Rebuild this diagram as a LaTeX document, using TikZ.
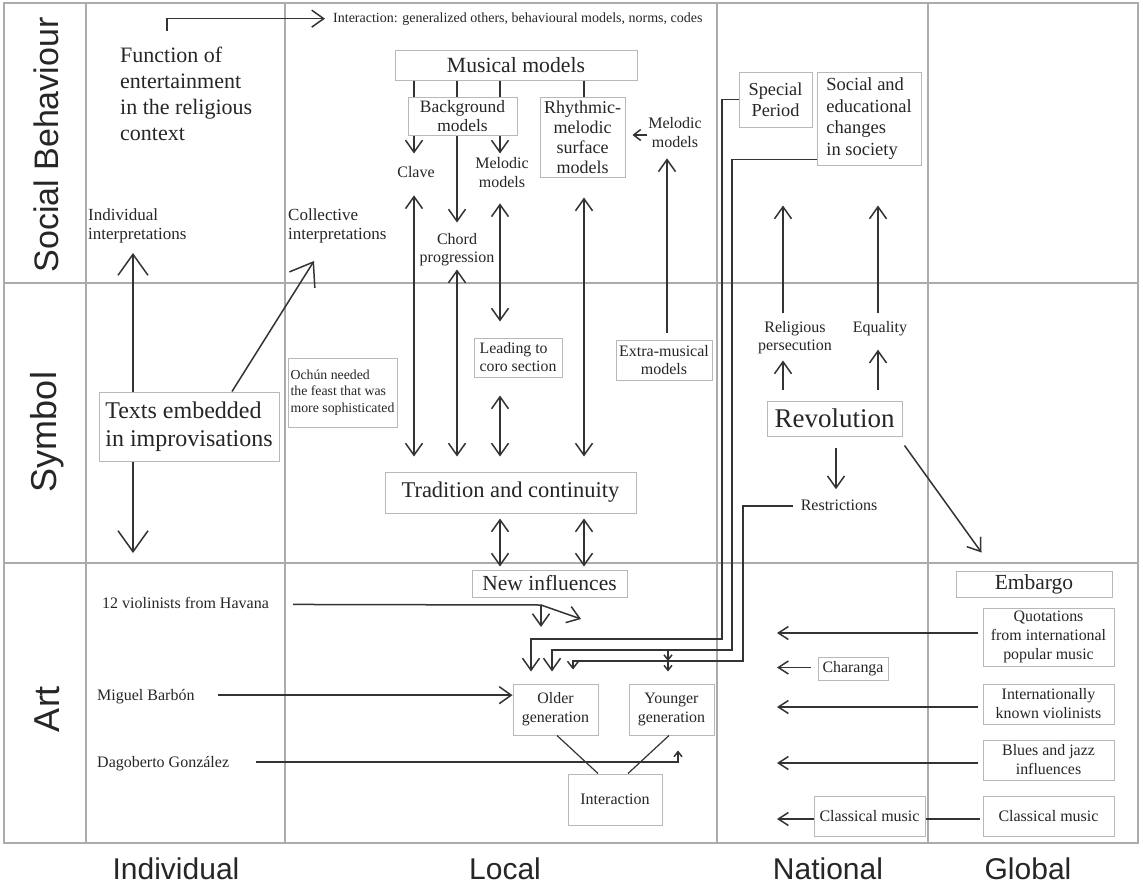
\documentclass[tikz,border=0pt]{standalone}
\usepackage{fontspec}
\setmainfont{Liberation Serif}
\newfontfamily\axisfont{Liberation Sans}
\usetikzlibrary{arrows.meta,calc}
\newcommand\fsz[2]{\fontsize{#1}{#2}\selectfont}
\tikzset{
  TB/.tip={Straight Barb[length=21pt,width=30pt]},
  TM/.tip={Straight Barb[length=12pt,width=17pt]},
  TG/.tip={Straight Barb[length=10pt,width=13pt]},
  TS/.tip={Straight Barb[length=7pt,width=11pt]},
  TX/.tip={Straight Barb[length=5pt,width=8pt]},
}
\begin{document}
\begin{tikzpicture}[x=1pt,y=-1pt,
  grid/.style={draw=black!33,line width=1.1pt},
  box/.style={draw=black!28,line width=1pt,inner sep=0pt,text=black!85,align=center},
  txt/.style={inner sep=0pt,text=black!85},
  con/.style={draw=black!80,line width=1.5pt},
  axislab/.style={inner sep=0pt,text=black!85},
]
\useasboundingbox (0,0) rectangle (1143,886);
\fill[white] (0,0) rectangle (1143,886);

% grid
\draw[grid] (4,3) rectangle (1138,843);
\draw[grid] (86,3) -- (86,843);
\draw[grid] (285,3) -- (285,843);
\draw[grid] (717,3) -- (717,843);
\draw[grid] (928,3) -- (928,843);
\draw[grid] (4,283) -- (1138,283);
\draw[grid] (4,563) -- (1138,563);

% axis labels
\node[axislab,rotate=90,font=\axisfont\fsz{34}{40}] (lsb) at (46,145) {Social Behaviour};
\node[axislab,rotate=90,font=\axisfont\fsz{36}{40}] (lsym) at (47,432) {Symbol};
\node[axislab,rotate=90,font=\axisfont\fsz{36}{40}] (lart) at (47,709) {Art};
\node[axislab,anchor=base,font=\axisfont\fsz{30}{34}] (lind) at (176,879) {Individual};
\node[axislab,anchor=base,font=\axisfont\fsz{30}{34}] (lloc) at (505,879) {Local};
\node[axislab,anchor=base,font=\axisfont\fsz{30}{34}] (lnat) at (828,879) {National};
\node[axislab,anchor=base,font=\axisfont\fsz{30}{34}] (lglob) at (1028,879) {Global};

% boxes
\node[box,minimum width=242pt,minimum height=30pt,font=\fsz{21.7}{24}] (musical) at (516,65) {Musical models};
\node[box,minimum width=109pt,minimum height=38pt,font=\fsz{17.4}{19}] (bg) at (462.5,116) {Background\\models};
\node[box,minimum width=85pt,minimum height=80pt,font=\fsz{18}{20}] (rhythm) at (582.5,137) {Rhythmic-\\melodic\\surface\\models};
\node[box,align=left,minimum width=180pt,minimum height=69pt,font=\fsz{24}{28}] (texts) at (189,426.5) {Texts embedded\\in improvisations};
\node[box,align=left,minimum width=109pt,minimum height=69pt,font=\fsz{13.8}{16.5}] (ochun) at (342.5,392.5) {Och\'un needed\\the feast that was\\more sophisticated};
\node[box,align=left,minimum width=88pt,minimum height=39pt,font=\fsz{15.8}{18}] (leading) at (518,357.5) {Leading to\\coro section};
\node[box,minimum width=96pt,minimum height=40pt,font=\fsz{16}{18}] (extra) at (664,360) {Extra-musical\\models};
\node[box,minimum width=251pt,minimum height=41pt,font=\fsz{22.5}{25}] (tradition) at (510.5,492.5) {Tradition and continuity};
\node[box,minimum width=155pt,minimum height=27pt,font=\fsz{21.5}{24}] (newinf) at (549.5,583.5) {New influences};
\node[box,minimum width=85pt,minimum height=51pt,font=\fsz{15.9}{19}] (older) at (555.5,709.5) {Older\\generation};
\node[box,minimum width=85pt,minimum height=51pt,font=\fsz{15.9}{19}] (younger) at (671.5,709.5) {Younger\\generation};
\node[box,minimum width=94pt,minimum height=51pt,font=\fsz{16}{19}] (interaction) at (615,799.5) {Interaction};
\node[box,minimum width=73pt,minimum height=55pt,font=\fsz{18.3}{21}] (special) at (775.5,99.5) {Special\\Period};
\node[box,align=left,minimum width=104pt,minimum height=93pt,font=\fsz{18.5}{21.7}] (social) at (869,118.5) {Social and\\educational\\changes\\in society};
\node[box,minimum width=135pt,minimum height=35pt,font=\fsz{27}{30}] (revolution) at (834.5,418.5) {Revolution};
\node[box,minimum width=156pt,minimum height=26pt,font=\fsz{21.5}{24}] (embargo) at (1034,584) {Embargo};
\node[box,minimum width=131pt,minimum height=58pt,font=\fsz{15.9}{19}] (quot) at (1048.5,637) {Quotations\\from international\\popular music};
\node[box,minimum width=70pt,minimum height=23pt,font=\fsz{15.9}{18}] (charanga) at (853,668.5) {Charanga};
\node[box,minimum width=131pt,minimum height=40pt,font=\fsz{15.9}{19}] (intl) at (1048.5,704) {Internationally\\known violinists};
\node[box,minimum width=131pt,minimum height=40pt,font=\fsz{15.9}{19}] (blues) at (1048.5,760) {Blues and jazz\\influences};
\node[box,minimum width=131pt,minimum height=40pt,font=\fsz{16}{19}] (classG) at (1048.5,816) {Classical music};
\node[box,minimum width=111pt,minimum height=40pt,font=\fsz{16}{19}] (classN) at (869.5,816) {Classical music};

% plain texts
\node[txt,anchor=west,align=left,font=\fsz{22}{26}] (func) at (120,94) {Function of\\entertainment\\in the religious\\context};
\node[txt,anchor=base west,font=\fsz{14}{16}] (inter) at (333,22) {Interaction: generalized others, behavioural models, norms, codes};
\node[txt,anchor=west,align=left,font=\fsz{17}{18.5}] (indiv) at (88,226) {Individual\\interpretations};
\node[txt,anchor=west,align=left,font=\fsz{17}{18.5}] (coll) at (288,226) {Collective\\interpretations};
\node[txt,anchor=base,font=\fsz{16}{18}] (clave) at (416,177) {Clave};
\node[txt,align=center,font=\fsz{16}{19}] (mel1) at (502,173) {Melodic\\models};
\node[txt,align=center,font=\fsz{16}{18}] (chord) at (457,250) {Chord\\progression};
\node[txt,align=center,font=\fsz{16}{19}] (mel2) at (675,133) {Melodic\\models};
\node[txt,align=center,font=\fsz{16}{18}] (relig) at (795,338) {Religious\\persecution};
\node[txt,anchor=base,font=\fsz{16}{18}] (equal) at (880,332) {Equality};
\node[txt,anchor=base,font=\fsz{16}{18}] (restr) at (839,510) {Restrictions};
\node[txt,anchor=base west,font=\fsz{16}{18}] (viol) at (102,608) {12 violinists from Havana};
\node[txt,anchor=base west,font=\fsz{16}{18}] (miguel) at (97,700) {Miguel Barb\'on};
\node[txt,anchor=base west,font=\fsz{16}{18}] (dago) at (97,767) {Dagoberto Gonz\'alez};

% column / end coordinates
\coordinate (iup) at (133,253);
\coordinate (idown) at (133,553);
\coordinate (cB) at (232,0);
\coordinate (cup) at (314,261);
\coordinate (c414) at (414,0);
\coordinate (c457) at (457,0);
\coordinate (c500) at (500,0);
\coordinate (c584) at (584,0);
\coordinate (c667) at (667,0);
\coordinate (c783) at (783,0);
\coordinate (c878) at (878,0);
\coordinate (c836) at (836,0);
\coordinate (c531) at (531,0);
\coordinate (c552) at (552,0);
\coordinate (c573) at (573,0);
\coordinate (c668) at (668,0);
\coordinate (c557) at (557,0);
\coordinate (c598) at (598,0);
\coordinate (c669) at (669,0);
\coordinate (c628) at (628,0);
\coordinate (c678) at (678,0);
\coordinate (c777) at (777,0);
\coordinate (k1) at (722,639);
\coordinate (k2) at (732,650);
\coordinate (k3) at (743,661);
\coordinate (vsplit) at (541,605);
\coordinate (vdiag) at (581,619);

% top interaction arrow
\draw[con,-TM] ($(func.north west)+(47,-16)$) |- ([xshift=-8pt]inter.west);

% individual / collective
\draw[con,-TB] (texts.north -| iup) -- (iup);
\draw[con,-TB] (texts.south -| idown) -- (idown);
\draw[con,-TB] (texts.north -| cB) -- (cup);

% musical models tree
\foreach \c in {c414,c457,c500} \draw[con] (musical.south -| \c) -- (bg.north -| \c);
\draw[con] (musical.south -| c584) -- (rhythm.north -| c584);
\draw[con,-TM] (bg.south -| c414) -- ++(0,18);
\draw[con,-TM] (bg.south -| c500) -- ++(0,18);
\draw[con,-TM] (bg.south -| c457) -- ++(0,87);

% links with tradition
\draw[con,TM-TM] ($(clave.south -| c414)+(0,18)$) -- ($(tradition.north -| c414)+(0,-15)$);
\draw[con,TM-TM] ($(chord.south -| c457)+(0,3)$) -- ($(tradition.north -| c457)+(0,-15)$);
\draw[con,TM-TM] ($(mel1.south -| c500)+(0,15)$) -- ($(leading.north -| c500)+(0,-16)$);
\draw[con,TM-TM] ($(leading.south -| c500)+(0,18)$) -- ($(tradition.north -| c500)+(0,-15)$);
\draw[con,TM-TM] ($(rhythm.south -| c584)+(0,20)$) -- ($(tradition.north -| c584)+(0,-15)$);
\draw[con,TM-] ($(mel2.south -| c667)+(0,10)$) -- ($(extra.north -| c667)+(0,-7)$);
\draw[con,-TS] ($(mel2.west)+(-1,2)$) -- ($(rhythm.east |- mel2.west)+(7,2)$);
\draw[con,TM-TM] ($(tradition.south -| c500)+(0,5)$) -- ($(newinf.north -| c500)+(0,-3)$);
\draw[con,TM-TM] ($(tradition.south -| c584)+(0,5)$) -- ($(newinf.north -| c584)+(0,-3)$);

% art individuals
\draw[con] ($(viol.east)+(24,2)$) -- (vsplit);
\draw[con,-TM] (vsplit) -- ++(0,22);
\draw[con,-TM] (vsplit) -- (vdiag);
\draw[con,-TM] ($(miguel.east)+(23,-1)$) -- ($(older.west |- miguel.east)+(0,-1)$);
\draw[con,-TX] ($(dago.east)+(27,-1)$) -| ($(younger.south -| c678)+(0,15)$);

% generations
\draw[con,line width=1.2pt] (older.south -| c557) -- (interaction.north -| c598);
\draw[con,line width=1.2pt] (younger.south -| c669) -- (interaction.north -| c628);

% national to local
\draw[con,-TM] (special.west) -| (k1) -| ($(older.north -| c531)+(0,-12)$);
\draw[con,-TM] ($(social.south west)+(0,-6)$) -| (k2) -| ($(older.north -| c552)+(0,-12)$);
\draw[con,-TS] ($(restr.west)+(-8,1)$) -| (k3) -| ($(older.north -| c573)+(0,-14)$);
\draw[con,-TX] (c668 |- k2) -- (c668 |- k3);
\draw[con,-TX] (c668 |- k3) -- ($(younger.north -| c668)+(0,-12)$);

% revolution
\draw[con,-TM] ($(revolution.north -| c783)+(0,-11)$) -- ($(relig.south -| c783)+(0,6)$);
\draw[con,-TM] ($(revolution.north -| c878)+(0,-11)$) -- ($(equal.south -| c878)+(0,14)$);
\draw[con,-TM] ($(relig.north -| c783)+(0,-9)$) -- ($(special.south -| c783)+(0,78)$);
\draw[con,-TM] ($(equal.north -| c878)+(0,-8)$) -- ($(social.south -| c878)+(0,40)$);
\draw[con,-TM] ($(revolution.south -| c836)+(0,11)$) -- ($(restr.north -| c836)+(0,-10)$);
\draw[con,-TM] ($(revolution.south east)+(2,9)$) -- ($(embargo.north west)+(26,-18)$);

% global to national
\draw[con,-TG] ($(quot.west)+(-5,-4)$) -- ($(c777 |- quot.west)+(0,-4)$);
\draw[con,-TG] ($(charanga.west)+(-7,-1)$) -- ($(c777 |- charanga.west)+(0,-1)$);
\draw[con,-TG] ($(intl.west)+(-5,3)$) -- ($(c777 |- intl.west)+(0,3)$);
\draw[con,-TG] ($(blues.west)+(-5,3)$) -- ($(c777 |- blues.west)+(0,3)$);
\draw[con] ($(classG.west)+(-3,3)$) -- ($(classN.east)+(0,3)$);
\draw[con,-TG] ($(classN.west)+(0,3)$) -- ($(c777 |- classN.west)+(0,3)$);
\end{tikzpicture}
\end{document}
